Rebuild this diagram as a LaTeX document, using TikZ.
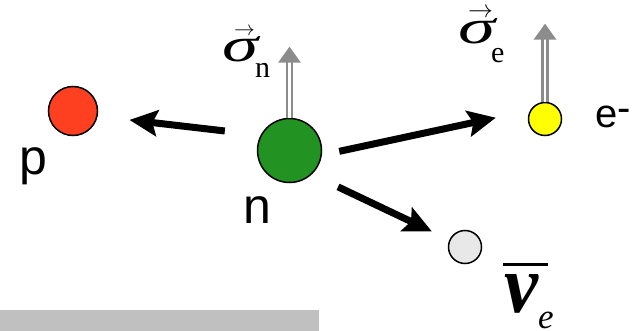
\documentclass[tikz,border=0pt]{standalone}
\usepackage{fontspec}
\usepackage{graphicx}
\setmainfont{Liberation Serif}
\newfontfamily\sansf{Liberation Sans}
\usetikzlibrary{arrows.meta,calc}
\definecolor{protonred}{RGB}{255,64,32}
\definecolor{neutrongreen}{RGB}{34,146,34}
\definecolor{elecyellow}{RGB}{255,255,0}
\definecolor{nugray}{RGB}{232,232,232}
\definecolor{spingray}{RGB}{140,140,140}
\definecolor{bargray}{RGB}{192,192,192}
\begin{document}
\begin{tikzpicture}[x=1pt,y=-1pt,
  particle/.style={circle,draw=black,line width=1.5pt,inner sep=0pt},
  emit/.style={line width=7pt,-{Stealth[length=28pt,width=26pt,inset=5pt]}},
  spinshaft/.style={draw=spingray,line width=2.5pt,double=white,double distance=2.5pt},
  plabel/.style={font=\sansf\fontsize{50}{50}\selectfont,inner sep=0pt,anchor=base},
  mlabel/.style={inner sep=0pt,anchor=base west},
  ]
\useasboundingbox (0,0) rectangle (637,331);
\fill[bargray] (0,310) rectangle (319,331);

\node[particle,fill=protonred,minimum size=49pt] (p) at (73,111) {};
\node[particle,fill=neutrongreen,minimum size=64pt] (n) at (289.5,150.5) {};
\node[particle,fill=elecyellow,minimum size=33pt] (e) at (545,119) {};
\node[particle,fill=nugray,minimum size=33pt] (nu) at (465,247) {};

\node[plabel] (pl) at (33.5,175) {p};
\node[plabel] (nl) at (257.5,223) {n};
\node[font=\sansf\fontsize{40}{40}\selectfont,inner sep=0pt,anchor=base west] (el) at (595,128) {e\raisebox{6pt}{-}};

\node[mlabel] (snl) at (222,62)
  {\rlap{\hspace{12pt}\raisebox{26pt}{\fontsize{21}{21}\selectfont$\rightarrow$}}%
   \resizebox{36pt}{25pt}{\itshape σ}\kern-3pt\raisebox{-16pt}{\fontsize{30}{30}\selectfont n}};
\node[mlabel] (sel) at (458,44)
  {\rlap{\hspace{10pt}\raisebox{26pt}{\fontsize{24}{24}\selectfont$\rightarrow$}}%
   \resizebox{37pt}{25pt}{\itshape σ}\kern-4pt\raisebox{-19pt}{\fontsize{30}{30}\selectfont e}};
\node[mlabel] (nul) at (504,312)
  {\rlap{\hspace{-1pt}\rule[46pt]{45pt}{3pt}}%
   \resizebox{34pt}{38pt}{\bfseries\itshape ν}\raisebox{-16pt}{\fontsize{35}{35}\selectfont\itshape e}};

\draw[emit, shorten <=36pt, shorten >=32pt] (n.152) -- (p.-12);
\draw[emit, shorten <=17.7pt, shorten >=35pt] (n.-8) -- (e.150);
\draw[emit, shorten <=29pt, shorten >=19.4pt] (n.-47) -- (nu.155);

\path (n.north) ++(0,-71) coordinate (sntip);
\path (e.north) ++(0,-78) coordinate (setip);
\draw[spinshaft] (n.north) -- ($(sntip)+(0,15)$);
\fill[spingray] (sntip) -- ++(-11.5,16) -- ++(23,0) -- cycle;
\draw[spinshaft] (e.north) -- ($(setip)+(0,15)$);
\fill[spingray] (setip) -- ++(-11.5,16) -- ++(23,0) -- cycle;
\end{tikzpicture}
\end{document}
